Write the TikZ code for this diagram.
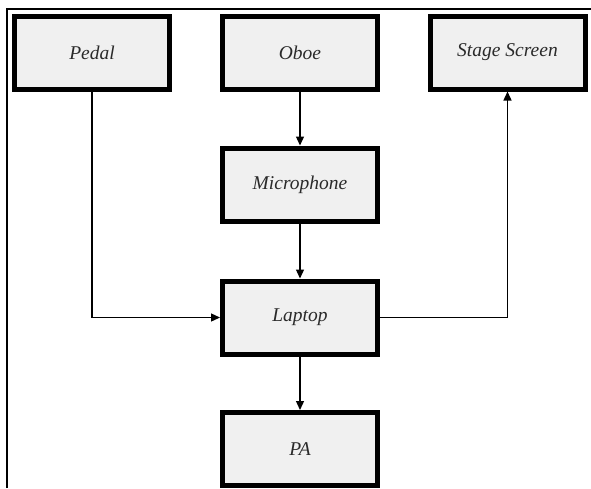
\documentclass[tikz,border=0pt]{standalone}
\usepackage{fontspec}
\setmainfont{Liberation Serif}
\usetikzlibrary{arrows.meta}
\definecolor{boxfill}{HTML}{F0F0F0}
\definecolor{txt}{HTML}{2A2A2A}
\tikzset{
  blk/.style={draw=black, line width=5pt, fill=boxfill, text=txt, minimum width=155pt, minimum height=73pt, inner sep=0pt, font=\fontsize{19.5}{23}\selectfont\itshape},
  conn/.style={line width=1.3pt, -{Triangle[length=9pt,width=8pt]}},
  frame/.style={line width=1.5pt}
}
\begin{document}
\begin{tikzpicture}[x=1pt,y=-1pt]
\useasboundingbox (0,0) rectangle (591,488);
\draw[frame] (7,488) -- (7,9) -- (591,9);
\node[blk] (pedal) at (92,52.5) {Pedal};
\node[blk] (oboe) at (300,52.5) {Oboe};
\node[blk] (stage) at (507.5,52.5) {Stage Screen};
\node[blk] (mic) at (300,184.5) {Microphone};
\node[blk] (laptop) at (300,317.5) {Laptop};
\node[blk] (pa) at (300,449) {PA};
\draw[conn] (oboe) -- (mic);
\draw[conn] (mic) -- (laptop);
\draw[conn] (laptop) -- (pa);
\draw[conn] (pedal.south) |- (laptop.west);
\draw[conn] (laptop.east) -| (stage.south);
\end{tikzpicture}
\end{document}
